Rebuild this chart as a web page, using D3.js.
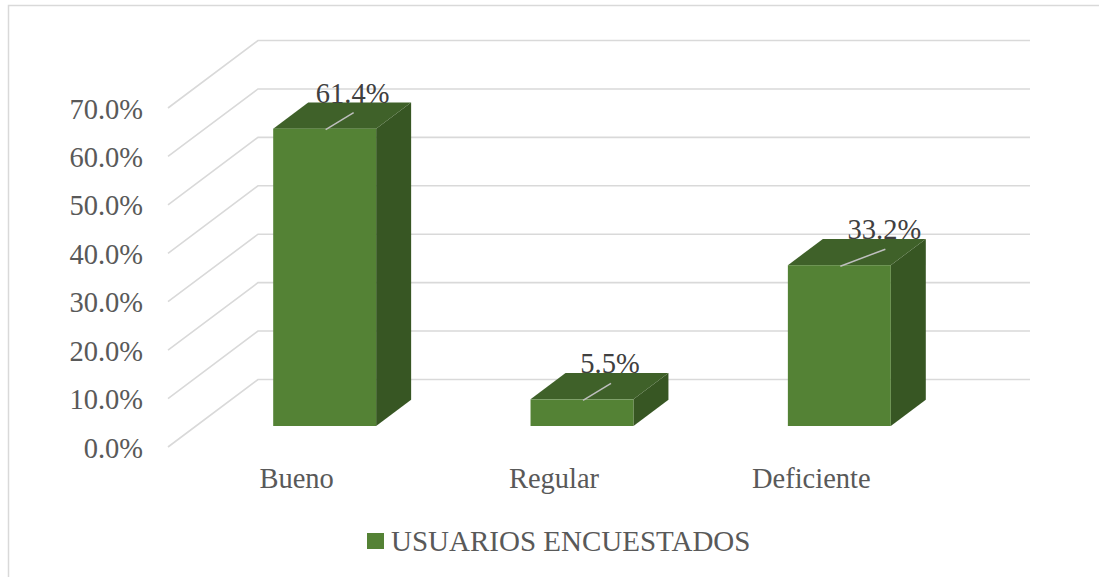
<!DOCTYPE html>
<html>
<head>
<meta charset="utf-8">
<script src="https://cdn.jsdelivr.net/npm/d3@7"></script>
<style>
  body { margin: 0; background: #fff; }
  svg text { font-family: "Liberation Serif", "Times New Roman", serif; }
</style>
</head>
<body>
<div id="chart"></div>
<script>
// Datos
const categorias = ['Bueno', 'Regular', 'Deficiente'];
const valores = [0.614, 0.055, 0.332];
const ticksY = [0, 0.1, 0.2, 0.3, 0.4, 0.5, 0.6, 0.7];
const serie = 'USUARIOS ENCUESTADOS';

// Layout
const w = 1099, h = 577;
const fondoX = 90, fondoY = -67.5;      // profundidad del suelo/paredes
const barraX = 28, barraY = -21;        // desplazamiento del frente de la barra
const profX = 35, profY = -26.25;       // profundidad de la barra
const empujeEtiqueta = [0, 0, 17];      // ajuste fino de etiquetas

const colFrente = '#548235', colArriba = '#3f6129', colLado = '#375623';
const colGrid = '#d9d9d9';

const svg = d3.select('#chart').append('svg')
  .attr('width', w)
  .attr('height', h);

// borde del area del grafico
svg.append('rect')
  .attr('x', 8.5).attr('y', 5.5)
  .attr('width', 1200).attr('height', 700)
  .attr('fill', 'none')
  .attr('stroke', colGrid)
  .attr('stroke-width', 1.5);

// Escalas
const yScale = d3.scaleLinear().domain([0, 0.7]).range([447, 108]);
const xScale = d3.scaleBand().domain(categorias).range([168, 940]).padding(0);
const anchoBarra = xScale.bandwidth() * 0.4;

// Rejilla en perspectiva
svg.append('g').selectAll('path')
  .data(ticksY)
  .enter()
  .append('path')
  .attr('d', (d) => {
    const y = yScale(d);
    return 'M168,' + y + 'L' + (168 + fondoX) + ',' + (y + fondoY) + 'L1030,' + (y + fondoY);
  })
  .attr('fill', 'none')
  .attr('stroke', colGrid)
  .attr('stroke-width', 1.6);

// Eje Y
const yAxis = d3.axisLeft(yScale).tickValues(ticksY).tickFormat(d3.format('.1%')).tickSize(0).tickPadding(0);
const gy = svg.append('g')
  .attr('transform', 'translate(143,1)')
  .call(yAxis);
gy.select('.domain').remove();
gy.selectAll('text')
  .attr('fill', '#595959')
  .style('font-size', '28.5px')
  .style('font-family', '"Liberation Serif", serif');

// Eje X (etiquetas centradas en el plano frontal)
svg.append('g').selectAll('text')
  .data(categorias)
  .enter()
  .append('text')
  .attr('x', (d) => xScale(d) + xScale.bandwidth() / 2)
  .attr('y', 488)
  .attr('text-anchor', 'middle')
  .attr('fill', '#595959')
  .style('font-size', '28.5px')
  .text((d) => d);

// Barras 3D
const datos = categorias.map((c, i) => ({ cat: c, val: valores[i], nudge: empujeEtiqueta[i] }));

const barras = svg.append('g').selectAll('g')
  .data(datos)
  .enter()
  .append('g');

function geo(d) {
  const x0 = xScale(d.cat) + xScale.bandwidth() / 2 - anchoBarra / 2 + barraX;
  const x1 = x0 + anchoBarra;
  const y0 = yScale(0) + barraY;
  const y1 = yScale(d.val) + barraY;
  return { x0, x1, y0, y1 };
}

// lado derecho
barras.append('path')
  .attr('d', (d) => {
    const g = geo(d);
    return 'M' + g.x1 + ',' + g.y1 + 'L' + (g.x1 + profX) + ',' + (g.y1 + profY) +
      'L' + (g.x1 + profX) + ',' + (g.y0 + profY) + 'L' + g.x1 + ',' + g.y0 + 'Z';
  })
  .attr('fill', colLado);

// tapa
barras.append('path')
  .attr('d', (d) => {
    const g = geo(d);
    return 'M' + g.x0 + ',' + g.y1 + 'L' + g.x1 + ',' + g.y1 + 'L' + (g.x1 + profX) + ',' + (g.y1 + profY) +
      'L' + (g.x0 + profX) + ',' + (g.y1 + profY) + 'Z';
  })
  .attr('fill', colArriba);

// frente
barras.append('rect')
  .attr('x', (d) => geo(d).x0)
  .attr('y', (d) => geo(d).y1)
  .attr('width', anchoBarra)
  .attr('height', (d) => geo(d).y0 - geo(d).y1)
  .attr('fill', colFrente);

// lineas guia de etiquetas
barras.append('line')
  .attr('x1', (d) => (geo(d).x0 + geo(d).x1) / 2 + 1)
  .attr('y1', (d) => geo(d).y1 + 1)
  .attr('x2', (d) => (geo(d).x0 + geo(d).x1) / 2 + 29 + d.nudge)
  .attr('y2', (d) => geo(d).y1 - 16)
  .attr('stroke', '#bfbfbf')
  .attr('stroke-width', 1.5);

// etiquetas de datos
barras.append('text')
  .attr('x', (d) => (geo(d).x0 + geo(d).x1) / 2 + 28 + d.nudge)
  .attr('y', (d) => geo(d).y1 - 26)
  .attr('text-anchor', 'middle')
  .attr('fill', '#404040')
  .style('font-size', '28.5px')
  .text((d) => d3.format('.1%')(d.val));

// Leyenda
const leyenda = svg.append('g');
leyenda.append('rect')
  .attr('x', 367).attr('y', 533)
  .attr('width', 17).attr('height', 16)
  .attr('fill', colFrente);
leyenda.append('text')
  .attr('x', 391)
  .attr('y', 551)
  .attr('fill', '#595959')
  .style('font-size', '29px')
  .text(serie);
</script>
</body>
</html>
